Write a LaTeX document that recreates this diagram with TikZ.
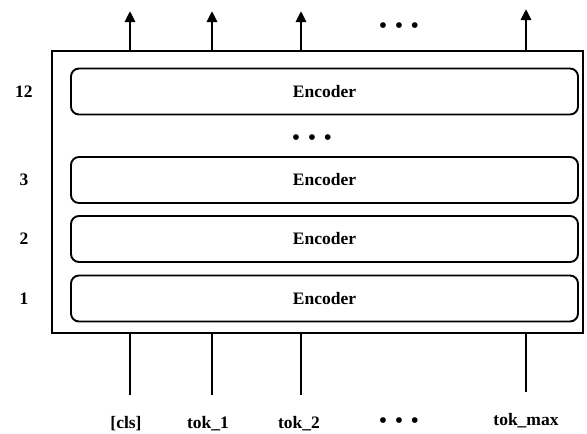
\documentclass[tikz,border=0pt]{standalone}
\usepackage{fontspec}
\setmainfont{Liberation Serif}
\usetikzlibrary{arrows.meta}

\begin{document}
\begin{tikzpicture}[x=1pt, y=-1pt,
    every node/.style={font=\fontsize{17.5}{20}\selectfont\bfseries, align=center},
    layer/.style={draw, line width=1.9pt, rounded corners=8pt, minimum width=507pt, minimum height=46pt},
    dotrow/.style={font=\fontsize{24}{24}\selectfont},
    wire/.style={line width=2.7pt},
    outwire/.style={wire, -{Triangle[length=11pt, width=10pt]}}]

        \useasboundingbox (0,0) rectangle (587,434);

        % Outer box
        \node[draw, line width=2.9pt, minimum width=531pt, minimum height=282pt] (bert) at (317.5,192) {};

        % Encoder stack
        \node[layer] (enc12) at (324.5,91.5) {Encoder};
        \node[layer] (enc3) at (324.5,180) {Encoder};
        \node[layer] (enc2) at (324.5,239) {Encoder};
        \node[layer] (enc1) at (324.5,298.5) {Encoder};
        \node[dotrow] (middots) at (312,140.5) {\textbullet\hspace{7.5pt}\textbullet\hspace{7.5pt}\textbullet};

        % Layer numbers
        \node (num12) at (24,91.5) {12};
        \node (num3) at (24,180) {3};
        \node (num2) at (24,239) {2};
        \node (num1) at (24,298.5) {1};

        % Outputs
        \coordinate (out1) at (130,11);
        \coordinate (out2) at (212,11);
        \coordinate (out3) at (301,11);
        \coordinate (outmax) at (526,9);
        \draw[outwire] (out1 |- bert.north) -- (out1);
        \draw[outwire] (out2 |- bert.north) -- (out2);
        \draw[outwire] (out3 |- bert.north) -- (out3);
        \draw[outwire] (outmax |- bert.north) -- (outmax);
        \node[dotrow] (topdots) at (399,28.5) {\textbullet\hspace{7.5pt}\textbullet\hspace{7.5pt}\textbullet};

        % Inputs
        \coordinate (in1) at (130,395);
        \coordinate (in2) at (212,395);
        \coordinate (in3) at (301,395);
        \coordinate (inmax) at (526,392);
        \draw[wire] (in1 |- bert.south) -- (in1);
        \draw[wire] (in2 |- bert.south) -- (in2);
        \draw[wire] (in3 |- bert.south) -- (in3);
        \draw[wire] (inmax |- bert.south) -- (inmax);

        % Token labels
        \node[anchor=base] (cls) at (126,428) {[cls]};
        \node[anchor=base] (tok1) at (208,428) {tok\_1};
        \node[anchor=base] (tok2) at (299,428) {tok\_2};
        \node[dotrow] (botdots) at (399,423.5) {\textbullet\hspace{7.5pt}\textbullet\hspace{7.5pt}\textbullet};
        \node[anchor=base] (tokmax) at (526,425) {tok\_max};

    \end{tikzpicture}
\end{document}
